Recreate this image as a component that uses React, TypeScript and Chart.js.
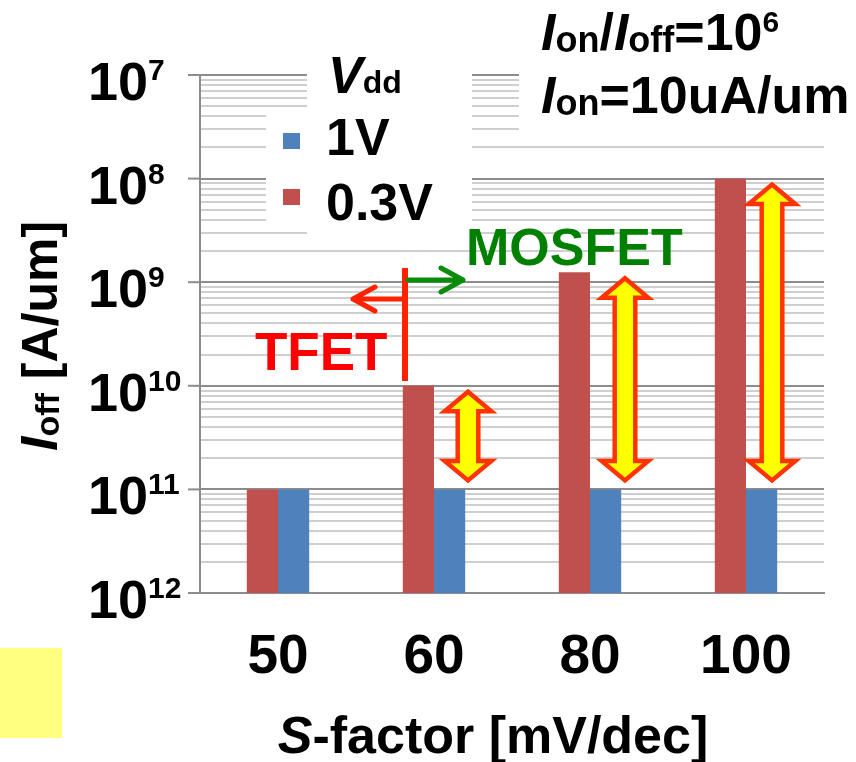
import React, { useEffect, useRef } from "react";
import { Chart, registerables } from "chart.js";

Chart.register(...registerables);

// ---------- data ----------
const categories = ["50", "60", "80", "100"];
const seriesLowVddName = "0.3V";
const seriesHighVddName = "1V";
const ioffLowVdd = [1e-11, 1e-10, 1.25e-9, 1e-8]; // Vdd = 0.3 V
const ioffHighVdd = [1e-11, 1e-11, 1e-11, 1e-11]; // Vdd = 1 V
const yTickExponents = ["7", "8", "9", "10", "11", "12"];
const yMin = 1e-12;
const yMax = 1e-7;
// categories that carry a yellow double arrow (index into categories)
const arrowCategoryIndices = [1, 2, 3];

// ---------- styles ----------
const FONT = '"Liberation Sans", Arial, Helvetica, sans-serif';
const RED_BAR = "#C0504D";
const BLUE_BAR = "#4F81BD";
const arrowOffsetsPx = [34, 35, 26];

type Seg = { t: string; size: number; italic?: boolean; dy?: number };

function fontOf(size: number, italic?: boolean) {
  return `${italic ? "italic " : ""}bold ${size}px ${FONT}`;
}

function drawRich(
  ctx: CanvasRenderingContext2D,
  segs: Seg[],
  x: number,
  y: number,
  align: "left" | "center" = "left",
  color = "#000"
) {
  ctx.save();
  ctx.textBaseline = "alphabetic";
  ctx.textAlign = "left";
  ctx.fillStyle = color;
  const widths = segs.map((s) => {
    ctx.font = fontOf(s.size, s.italic);
    return ctx.measureText(s.t).width;
  });
  const total = widths.reduce((a, b) => a + b, 0);
  let cx = align === "center" ? x - total / 2 : x;
  segs.forEach((s, i) => {
    ctx.font = fontOf(s.size, s.italic);
    ctx.fillText(s.t, cx, y + (s.dy || 0));
    cx += widths[i];
  });
  ctx.restore();
}

function doubleArrow(ctx: CanvasRenderingContext2D, cx: number, yTop: number, yBot: number) {
  const hw = 23.3;
  const sw = 10.3;
  const hl = 19.5;
  ctx.save();
  ctx.beginPath();
  ctx.moveTo(cx, yTop);
  ctx.lineTo(cx + hw, yTop + hl);
  ctx.lineTo(cx + sw, yTop + hl);
  ctx.lineTo(cx + sw, yBot - hl);
  ctx.lineTo(cx + hw, yBot - hl);
  ctx.lineTo(cx, yBot);
  ctx.lineTo(cx - hw, yBot - hl);
  ctx.lineTo(cx - sw, yBot - hl);
  ctx.lineTo(cx - sw, yTop + hl);
  ctx.lineTo(cx - hw, yTop + hl);
  ctx.closePath();
  ctx.fillStyle = "#FFFF00";
  ctx.fill();
  ctx.lineJoin = "miter";
  ctx.lineWidth = 4.5;
  ctx.strokeStyle = "#FF3300";
  ctx.stroke();
  ctx.restore();
}

function lineArrow(
  ctx: CanvasRenderingContext2D,
  x0: number,
  x1: number,
  y: number,
  headLen: number,
  headHalf: number,
  color: string
) {
  const dir = Math.sign(x1 - x0);
  ctx.save();
  ctx.strokeStyle = color;
  ctx.lineWidth = 5;
  ctx.lineCap = "round";
  ctx.lineJoin = "round";
  ctx.beginPath();
  ctx.moveTo(x0, y);
  ctx.lineTo(x1, y);
  ctx.moveTo(x1 - dir * headLen, y - headHalf);
  ctx.lineTo(x1, y);
  ctx.lineTo(x1 - dir * headLen, y + headHalf);
  ctx.stroke();
  ctx.restore();
}

const overlayPlugin = {
  id: "overlay",
  beforeDatasetsDraw(chart: any) {
    const ctx: CanvasRenderingContext2D = chart.ctx;
    const y = chart.scales.y;
    ctx.save();
    // white boxes behind legend and annotation text
    ctx.fillStyle = "#ffffff";
    ctx.fillRect(307, 40, 165, 203);
    ctx.fillRect(266, 112, 206, 116);
    ctx.fillRect(519, 40, 320, 100);
    // major tick marks on the y axis
    ctx.strokeStyle = "#8c8c8c";
    ctx.lineWidth = 2;
    yTickExponents.forEach((e) => {
      const py = y.getPixelForValue(Math.pow(10, -Number(e)));
      ctx.beginPath();
      ctx.moveTo(chart.chartArea.left - 12, py);
      ctx.lineTo(chart.chartArea.left, py);
      ctx.stroke();
    });
    ctx.restore();
  },
  afterDatasetsDraw(chart: any) {
    const ctx: CanvasRenderingContext2D = chart.ctx;
    const xs = chart.scales.x;
    const ys = chart.scales.y;

    // yellow double arrows between 1V and 0.3V bars
    arrowCategoryIndices.forEach((ci, k) => {
      const cx = xs.getPixelForValue(ci) + arrowOffsetsPx[k];
      const top = ys.getPixelForValue(ioffLowVdd[ci]) + 6;
      const bot = ys.getPixelForValue(ioffHighVdd[ci]) - 9;
      doubleArrow(ctx, cx, top, bot);
    });

    // TFET / MOSFET divider
    const divX = xs.getPixelForValue(1) - 29;
    ctx.save();
    ctx.strokeStyle = "#FF2200";
    ctx.lineWidth = 6;
    ctx.beginPath();
    ctx.moveTo(divX, 268);
    ctx.lineTo(divX, 381);
    ctx.stroke();
    ctx.restore();
    lineArrow(ctx, divX, divX - 52, 299, 22, 12, "#FF2200");
    lineArrow(ctx, divX + 3, divX + 58, 280, 22, 12, "#0A8C0A");

    drawRich(ctx, [{ t: "TFET", size: 53 }], 255, 370, "left", "#FF0000");
    drawRich(ctx, [{ t: "MOSFET", size: 52 }], 466, 265, "left", "#008000");
  },
  afterDraw(chart: any) {
    const ctx: CanvasRenderingContext2D = chart.ctx;
    const xs = chart.scales.x;
    const ys = chart.scales.y;

    // y tick labels 10^n
    yTickExponents.forEach((e) => {
      const py = ys.getPixelForValue(Math.pow(10, -Number(e)));
      drawRich(ctx, [{ t: "10", size: 54 }, { t: e, size: 30, dy: -20 }], 88, py + 25);
    });

    // x tick labels
    categories.forEach((c, i) => {
      drawRich(ctx, [{ t: c, size: 55 }], xs.getPixelForValue(i), 673, "center");
    });

    // x title
    drawRich(
      ctx,
      [
        { t: "S", size: 52, italic: true },
        { t: "-factor [mV/dec]", size: 52 },
      ],
      493,
      753,
      "center"
    );

    // y title (rotated)
    ctx.save();
    ctx.translate(57, 336);
    ctx.rotate(-Math.PI / 2);
    drawRich(
      ctx,
      [
        { t: "I", size: 52, italic: true },
        { t: "off", size: 34, dy: 2 },
        { t: " [A/um]", size: 50 },
      ],
      0,
      0,
      "center"
    );
    ctx.restore();

    // legend
    drawRich(
      ctx,
      [
        { t: "V", size: 52, italic: true },
        { t: "dd", size: 32 },
      ],
      328,
      93
    );
    ctx.save();
    ctx.fillStyle = BLUE_BAR;
    ctx.fillRect(283, 133, 17, 16);
    ctx.fillStyle = RED_BAR;
    ctx.fillRect(283, 189, 17, 16);
    ctx.restore();
    drawRich(ctx, [{ t: seriesHighVddName, size: 52 }], 326, 155);
    drawRich(ctx, [{ t: seriesLowVddName, size: 52 }], 326, 220);

    // condition text
    drawRich(
      ctx,
      [
        { t: "I", size: 52, italic: true },
        { t: "on", size: 36, dy: 2 },
        { t: "/", size: 52 },
        { t: "I", size: 52, italic: true },
        { t: "off", size: 36, dy: 2 },
        { t: "=10", size: 52 },
        { t: "6", size: 30, dy: -18 },
      ],
      541,
      50
    );
    drawRich(
      ctx,
      [
        { t: "I", size: 52, italic: true },
        { t: "on", size: 36, dy: 2 },
        { t: "=10uA/um", size: 52 },
      ],
      541,
      113
    );

    // yellow patch bottom-left
    ctx.save();
    ctx.fillStyle = "#FFFF80";
    ctx.fillRect(0, 648, 62, 90);
    ctx.restore();
  },
};

export default function App() {
  const ref = useRef<HTMLCanvasElement | null>(null);

  useEffect(() => {
    if (!ref.current) return;
    const chart = new Chart(ref.current, {
      type: "bar",
      data: {
        labels: categories,
        datasets: [
          {
            label: seriesLowVddName,
            data: ioffLowVdd,
            backgroundColor: RED_BAR,
            borderWidth: 0,
          },
          {
            label: seriesHighVddName,
            data: ioffHighVdd,
            backgroundColor: BLUE_BAR,
            borderWidth: 0,
          },
        ],
      },
      options: {
        responsive: false,
        animation: false,
        layout: { padding: { left: 200, right: 32, top: 75, bottom: 169 } },
        datasets: { bar: { categoryPercentage: 0.4, barPercentage: 1.0 } },
        plugins: { legend: { display: false }, tooltip: { enabled: false }, title: { display: false } },
        scales: {
          x: {
            grid: { display: false, drawTicks: false },
            border: { display: true, color: "#8c8c8c", width: 2 },
            ticks: { display: false },
          },
          y: {
            type: "logarithmic",
            min: yMin,
            max: yMax,
            afterBuildTicks: (scale: any) => {
              const t: { value: number }[] = [];
              for (let e = -12; e < -7; e++) {
                for (let m = 1; m <= 9; m++) t.push({ value: m * Math.pow(10, e) });
              }
              t.push({ value: yMax });
              scale.ticks = t;
            },
            grid: {
              drawTicks: false,
              color: (c: any) => (c.index % 9 === 0 ? "#8c8c8c" : "#cfcfcf"),
              lineWidth: 2,
            },
            border: { display: true, color: "#8c8c8c", width: 2 },
            ticks: { display: false },
          },
        },
      },
      plugins: [overlayPlugin],
    } as any);
    return () => chart.destroy();
  }, []);

  return (
    <div style={{ position: "fixed", left: 0, top: 0, width: 856, height: 762, background: "#fff" }}>
      <canvas ref={ref} width={856} height={762} style={{ display: "block" }} />
    </div>
  );
}
